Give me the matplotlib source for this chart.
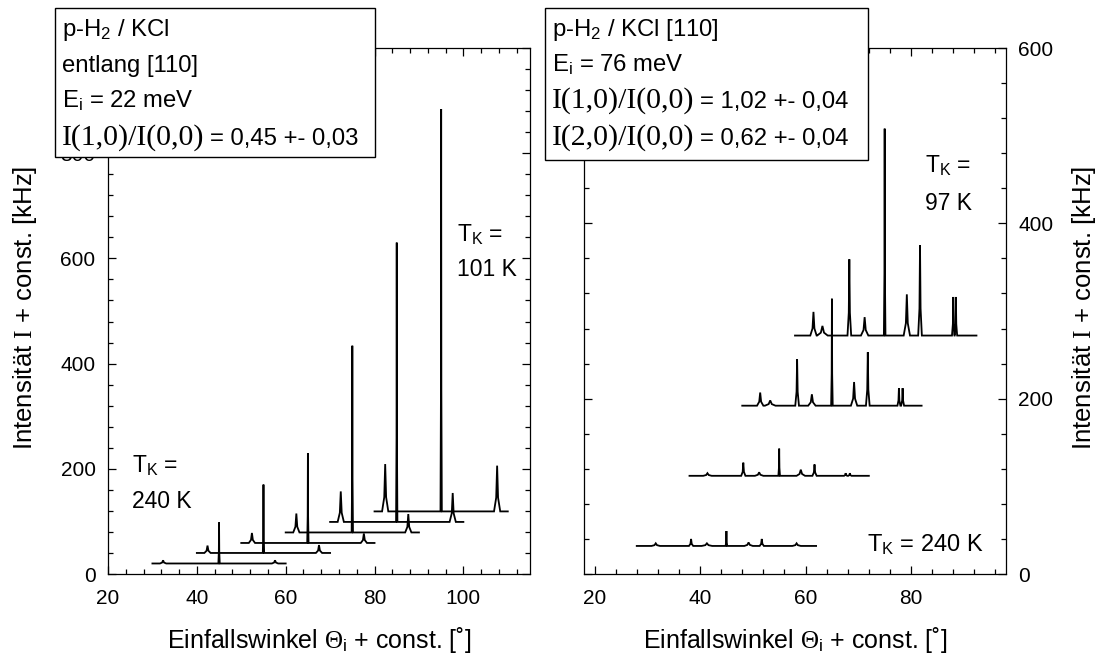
import matplotlib
matplotlib.use("Agg")
import matplotlib.pyplot as plt
from matplotlib.patches import Rectangle
from matplotlib.ticker import MultipleLocator

plt.rcParams['font.family'] = ['Liberation Sans', 'DejaVu Sans']
plt.rcParams['mathtext.fontset'] = 'custom'
plt.rcParams['mathtext.rm'] = 'Liberation Serif'
plt.rcParams['mathtext.sf'] = 'Liberation Sans'
plt.rcParams['mathtext.it'] = 'Liberation Serif:italic'
plt.rcParams['mathtext.bf'] = 'Liberation Serif:bold'

# ---------------- data: left panel (E_i = 22 meV) ----------------
left_start = [30, 40, 50, 60, 70, 80]
left_end = [60, 70, 80, 90, 100, 110]
left_base = [20, 40, 59, 79, 99, 119]
left_peak_pos = [
    [32.4, 45.0, 57.6],
    [42.4, 55.0, 67.5],
    [52.4, 65.0, 77.6],
    [62.4, 75.0, 87.6],
    [72.4, 85.0, 97.6],
    [82.4, 95.0, 107.6],
]
left_peak_h = [
    [6, 78, 6],
    [14, 130, 15],
    [19, 171, 18],
    [36, 355, 35],
    [58, 531, 55],
    [90, 765, 87],
]
left_peak_w = [
    [0.7, 0.15, 0.7],
    [0.7, 0.15, 0.7],
    [0.7, 0.15, 0.7],
    [0.7, 0.15, 0.7],
    [0.7, 0.15, 0.7],
    [0.7, 0.15, 0.7],
]

# ---------------- data: right panel (E_i = 76 meV) ----------------
right_start = [28, 38, 48, 58]
right_end = [62, 72, 82, 92.4]
right_base = [32, 112, 192, 272]
right_peak_pos = [
    [31.6, 38.3, 41.3, 45.0, 49.2, 51.7, 58.3],
    [41.4, 48.2, 51.2, 55.0, 59.1, 61.7, 67.6, 68.4],
    [51.4, 53.3, 58.4, 61.2, 65.0, 69.2, 71.8, 77.7, 78.4],
    [61.5, 63.2, 68.3, 71.2, 75.0, 79.2, 81.7, 88.0, 88.5],
]
right_peak_h = [
    [3, 8, 3, 17, 4, 8, 3],
    [3, 15, 4, 31, 7, 13, 3, 3],
    [15, 6, 53, 13, 122, 27, 61, 20, 20],
    [27, 11, 87, 21, 236, 47, 103, 44, 44],
]
right_peak_w = [
    [0.8, 0.4, 1.0, 0.15, 0.8, 0.4, 0.8],
    [0.8, 0.4, 0.8, 0.15, 0.8, 0.4, 0.3, 0.3],
    [0.6, 1.0, 0.35, 0.7, 0.15, 0.6, 0.35, 0.28, 0.28],
    [0.6, 1.0, 0.35, 0.7, 0.15, 0.6, 0.35, 0.24, 0.24],
]

left_yticks = [0, 200, 400, 600, 800, 1000]
left_yticklabels = ['0', '200', '400', '600', '800', '']

# text (each box line: list of (text, serif?) segments)
left_box_lines = [
    [(r"p-H$_\mathsf{2}$ / KCl", False)],
    [("entlang [110]", False)],
    [(r"E$_\mathsf{i}$ = 22 meV", False)],
    [("I(1,0)/I(0,0)", True), ("= 0,45 +- 0,03", False)],
]
right_box_lines = [
    [(r"p-H$_\mathsf{2}$ / KCl [110]", False)],
    [(r"E$_\mathsf{i}$ = 76 meV", False)],
    [("I(1,0)/I(0,0)", True), ("= 1,02 +- 0,04", False)],
    [("I(2,0)/I(0,0)", True), ("= 0,62 +- 0,04", False)],
]
xlabel = r"Einfallswinkel $\Theta_\mathsf{i}$ + const. [˚]"
ylabel = r"Intensität $\mathrm{I}$ + const. [kHz]"


def trace(start, end, base, pos, h, w):
    xs, ys = [start], [base]
    for p, hh, ww in sorted(zip(pos, h, w)):
        xs += [p - ww, p - 0.3 * ww, p, p + 0.3 * ww, p + ww]
        ys += [base, base + 0.3 * hh, base + hh, base + 0.3 * hh, base]
    xs.append(end)
    ys.append(base)
    return xs, ys


W, H = 1101, 664
fig = plt.figure(figsize=(W / 100, H / 100), dpi=100)
renderer = fig.canvas.get_renderer()

def px_axes(x0, x1, y0, y1):
    return fig.add_axes([x0 / W, 1 - y1 / H, (x1 - x0) / W, (y1 - y0) / H])

ax1 = px_axes(108, 530, 48, 574)
ax2 = px_axes(584, 1006, 48, 574)

for i in range(len(left_start)):
    xs, ys = trace(left_start[i], left_end[i], left_base[i],
                   left_peak_pos[i], left_peak_h[i], left_peak_w[i])
    ax1.plot(xs, ys, color='black', lw=1.3, solid_joinstyle='miter')

for i in range(len(right_start)):
    xs, ys = trace(right_start[i], right_end[i], right_base[i],
                   right_peak_pos[i], right_peak_h[i], right_peak_w[i])
    ax2.plot(xs, ys, color='black', lw=1.3, solid_joinstyle='miter')

ax1.set_xlim(20, 115)
ax1.set_ylim(0, 1000)
ax2.set_xlim(18, 98)
ax2.set_ylim(0, 600)

for ax in (ax1, ax2):
    ax.xaxis.set_major_locator(MultipleLocator(20))
    ax.xaxis.set_minor_locator(MultipleLocator(4))
    ax.yaxis.set_major_locator(MultipleLocator(200))
    ax.yaxis.set_minor_locator(MultipleLocator(40))
    ax.tick_params(which='both', direction='in', top=True, right=True,
                   left=True, bottom=True, width=0.9, labelsize=15)
    ax.tick_params(which='major', length=6)
    ax.tick_params(which='minor', length=3.5)
    ax.tick_params(axis='x', pad=11)
    ax.tick_params(axis='y', pad=9)
    for s in ax.spines.values():
        s.set_linewidth(0.9)

ax1.set_yticks(left_yticks)
ax1.set_yticklabels(left_yticklabels)
ax1.set_ylim(0, 1000)
ax2.tick_params(labelleft=False, labelright=True)

# annotations
fs_ann = 16.5
ax1.text(25.5, 206, r"T$_\mathsf{K}$ =", fontsize=fs_ann, ha='left', va='center')
ax1.text(25.5, 137, "240 K", fontsize=fs_ann, ha='left', va='center')
ax1.text(98.5, 644, r"T$_\mathsf{K}$ =", fontsize=fs_ann, ha='left', va='center')
ax1.text(98.5, 578, "101 K", fontsize=fs_ann, ha='left', va='center')
ax2.text(82.6, 466, r"T$_\mathsf{K}$ =", fontsize=fs_ann, ha='left', va='center')
ax2.text(82.6, 423, "97 K", fontsize=fs_ann, ha='left', va='center')
ax2.text(71.6, 33, r"T$_\mathsf{K}$ = 240 K", fontsize=17, ha='left', va='center')

# axis labels
fig.text(319 / W, 1 - 640 / H, xlabel, fontsize=18, ha='center', va='center')
fig.text(795 / W, 1 - 640 / H, xlabel, fontsize=18, ha='center', va='center')
fig.text(25 / W, 1 - 308 / H, ylabel, fontsize=18.5, ha='center', va='center', rotation=90)
fig.text(1084 / W, 1 - 308 / H, ylabel, fontsize=18.5, ha='center', va='center', rotation=90)

# info boxes
box_fs = 17.2
serif_fs = 21.5

def info_box(x0, x1, y0, y1, tx, lines, baselines):
    fig.add_artist(Rectangle((x0 / W, 1 - y1 / H), (x1 - x0) / W, (y1 - y0) / H,
                             transform=fig.transFigure, facecolor='white',
                             edgecolor='black', lw=1.0, zorder=5))
    for segs, yb in zip(lines, baselines):
        x = tx
        for k, (txt, serif) in enumerate(segs):
            if k > 0:
                x += 6
            t = fig.text(x / W, 1 - yb / H, txt,
                         family='Liberation Serif' if serif else ['Liberation Sans', 'DejaVu Sans'],
                         fontsize=serif_fs if serif else box_fs,
                         ha='left', va='baseline', zorder=6)
            x = t.get_window_extent(renderer).x1

info_box(55, 375, 8, 157, 62, left_box_lines, [36, 72, 108, 145])
info_box(545, 868, 8, 160, 552, right_box_lines, [36, 72, 108, 145])

fig.savefig("out.png", dpi=100)
